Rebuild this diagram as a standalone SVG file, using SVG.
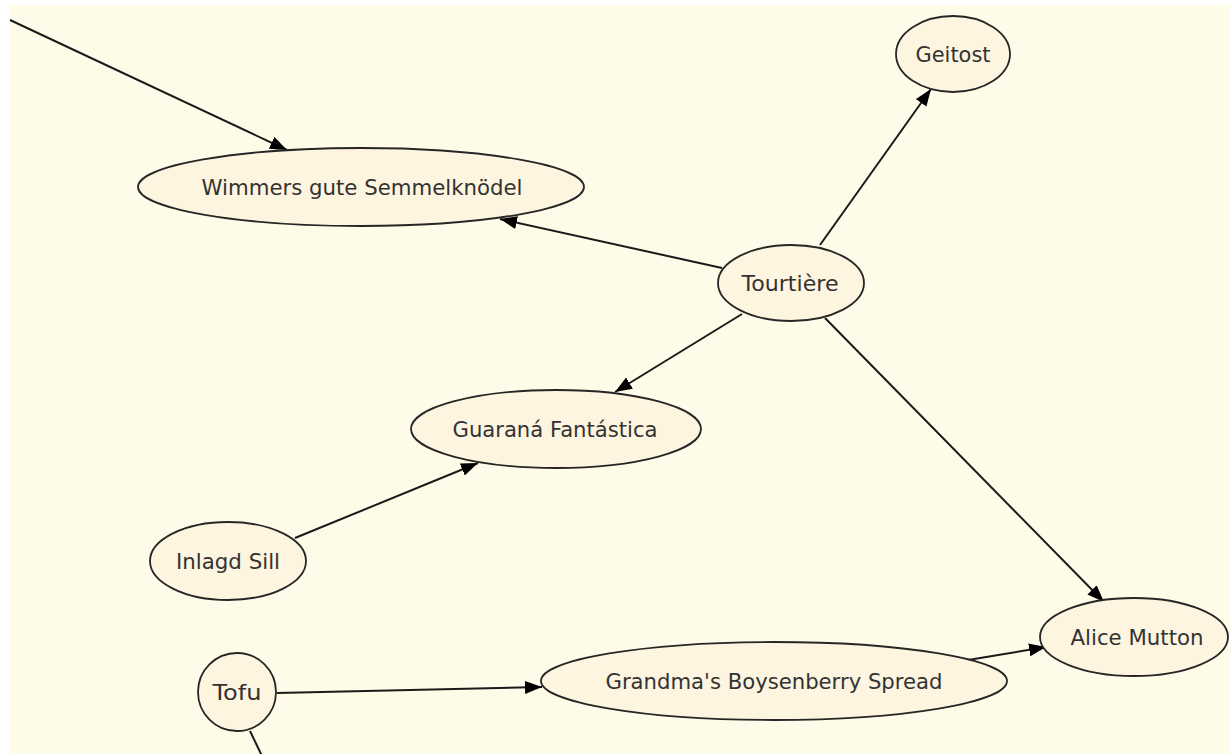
<svg xmlns="http://www.w3.org/2000/svg" width="1230" height="754" viewBox="0 0 1230 754">
<style>
.bg{fill:#fffbe9}
.node{fill:#fdf5df;stroke:#262626;stroke-width:1.8}
.lbl{font-family:"DejaVu Sans","Liberation Sans",sans-serif;font-size:22px;fill:#333;text-anchor:middle}
.edge{stroke:#1a1a1a;stroke-width:2;fill:none}
</style>
<defs>
<marker id="arr" markerUnits="userSpaceOnUse" markerWidth="20" markerHeight="14" refX="17" refY="6.5" orient="auto">
<path d="M0,0 L17,6.5 L0,13 z" fill="#000"/>
</marker>
</defs>
<rect x="0" y="0" width="1230" height="754" fill="#ffffff"/>
<rect class="bg" x="10" y="5" width="1220" height="749"/>
<g id="connectors">
<line class="edge" x1="10" y1="20" x2="287" y2="150" marker-end="url(#arr)"/>
<line class="edge" x1="722" y1="268" x2="500" y2="219" marker-end="url(#arr)"/>
<line class="edge" x1="820" y1="245" x2="931" y2="89" marker-end="url(#arr)"/>
<line class="edge" x1="742" y1="314" x2="615" y2="392" marker-end="url(#arr)"/>
<line class="edge" x1="825" y1="318" x2="1104" y2="602" marker-end="url(#arr)"/>
<line class="edge" x1="295" y1="538" x2="478" y2="463" marker-end="url(#arr)"/>
<line class="edge" x1="277" y1="693" x2="542" y2="687" marker-end="url(#arr)"/>
<line class="edge" x1="968" y1="660" x2="1046" y2="647" marker-end="url(#arr)"/>
<line class="edge" x1="250" y1="731" x2="262" y2="756"/>
</g>
<g id="geitost"><ellipse class="node" cx="953" cy="54" rx="57" ry="38"/><text class="lbl" x="953" y="62" textLength="75" lengthAdjust="spacingAndGlyphs">Geitost</text></g>
<g id="wimmers"><ellipse class="node" cx="361" cy="187" rx="223" ry="39"/><text class="lbl" x="362" y="195" textLength="321" lengthAdjust="spacingAndGlyphs">Wimmers gute Semmelknödel</text></g>
<g id="tourtiere"><ellipse class="node" cx="791" cy="283" rx="73" ry="38"/><text class="lbl" x="790" y="291" textLength="97" lengthAdjust="spacingAndGlyphs">Tourtière</text></g>
<g id="guarana"><ellipse class="node" cx="556" cy="429" rx="145" ry="39"/><text class="lbl" x="555" y="437" textLength="205" lengthAdjust="spacingAndGlyphs">Guaraná Fantástica</text></g>
<g id="inlagd"><ellipse class="node" cx="228" cy="561" rx="78" ry="39"/><text class="lbl" x="228" y="569" textLength="104" lengthAdjust="spacingAndGlyphs">Inlagd Sill</text></g>
<g id="tofu"><circle class="node" cx="237" cy="692" r="39"/><text class="lbl" x="237" y="700" textLength="49" lengthAdjust="spacingAndGlyphs">Tofu</text></g>
<g id="grandmas"><ellipse class="node" cx="774" cy="681" rx="233" ry="39"/><text class="lbl" x="774" y="689" textLength="337" lengthAdjust="spacingAndGlyphs">Grandma's Boysenberry Spread</text></g>
<g id="alice"><ellipse class="node" cx="1134" cy="637" rx="94" ry="39"/><text class="lbl" x="1137" y="645" textLength="133" lengthAdjust="spacingAndGlyphs">Alice Mutton</text></g>
</svg>
